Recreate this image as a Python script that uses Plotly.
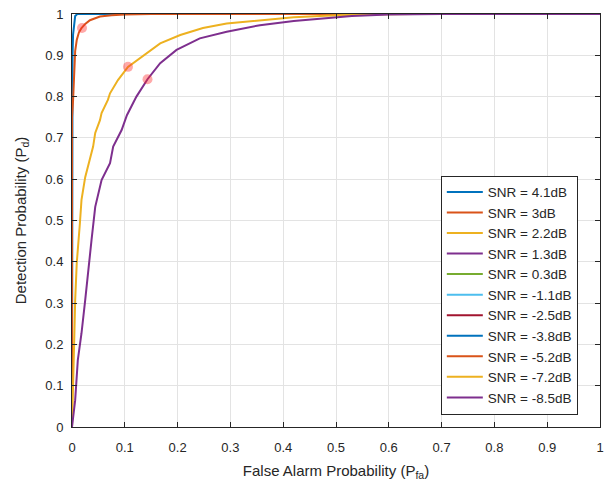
import plotly.graph_objects as go

snr_labels = ["4.1", "3", "2.2", "1.3", "0.3", "-1.1", "-2.5", "-3.8", "-5.2", "-7.2", "-8.5"]
colors = ["#0072BD", "#D95319", "#EDB120", "#7E2F8E", "#77AC30", "#4DBEEE", "#A2142F",
          "#0072BD", "#D95319", "#EDB120", "#7E2F8E"]

pfa_41 = [0, 0, 0.001, 0.002, 0.004, 0.006, 0.01, 1.0]
pd_41 = [0, 0.80, 0.90, 0.95, 0.98, 0.995, 1.0, 1.0]

pfa_3 = [0, 0, 0.002, 0.004, 0.006, 0.009, 0.013, 0.018, 0.025, 0.034, 0.053, 0.075, 0.1, 0.15, 1.0]
pd_3 = [0, 0.75, 0.79, 0.86, 0.91, 0.937, 0.955, 0.966, 0.976, 0.985, 0.994, 0.997, 0.999, 1.0, 1.0]

pfa_22 = [0, 0.001, 0.002, 0.004, 0.006, 0.009, 0.015, 0.018, 0.025, 0.034, 0.040, 0.044, 0.053,
          0.056, 0.068, 0.072, 0.087, 0.106, 0.141, 0.167, 0.205, 0.248, 0.293, 0.356, 0.42,
          0.48, 0.55, 0.65, 1.0]
pd_22 = [0, 0.04, 0.073, 0.2, 0.307, 0.397, 0.494, 0.55, 0.605, 0.646, 0.679, 0.712, 0.743,
         0.76, 0.792, 0.808, 0.84, 0.872, 0.905, 0.929, 0.949, 0.966, 0.977, 0.985, 0.992,
         0.996, 0.999, 1.0, 1.0]

pfa_13 = [0, 0.003, 0.006, 0.011, 0.018, 0.025, 0.031, 0.037, 0.044, 0.056, 0.072, 0.078, 0.094,
          0.104, 0.116, 0.122, 0.143, 0.167, 0.198, 0.242, 0.293, 0.356, 0.42, 0.48, 0.53,
          0.6, 0.7, 1.0]
pd_13 = [0, 0.03, 0.065, 0.162, 0.227, 0.307, 0.388, 0.453, 0.533, 0.598, 0.639, 0.679, 0.719,
         0.755, 0.785, 0.80, 0.842, 0.881, 0.913, 0.941, 0.957, 0.973, 0.983, 0.99, 0.995,
         0.999, 1.0, 1.0]

# series without drawn data (legend entries only)
curves_x = [pfa_41, pfa_3, pfa_22, pfa_13] + [[None]] * 7
curves_y = [pd_41, pd_3, pd_22, pd_13] + [[None]] * 7

marker_pfa = [0.019, 0.106, 0.143]
marker_pd = [0.966, 0.872, 0.842]

fig = go.Figure()
for lab, col, xs, ys in zip(snr_labels, colors, curves_x, curves_y):
    fig.add_trace(go.Scatter(x=xs, y=ys, mode="lines", name=f"SNR = {lab}dB",
                             line=dict(color=col, width=2), showlegend=True))

fig.add_trace(go.Scatter(x=marker_pfa, y=marker_pd, mode="markers", showlegend=False,
                         marker=dict(color="rgba(255,40,40,0.4)", size=10, line=dict(width=0))))

axis_common = dict(range=[0, 1], dtick=0.1, showgrid=True, gridcolor="#E3E3E3", gridwidth=1,
                   showline=True, linecolor="#262626", linewidth=1, mirror="ticks",
                   ticks="inside", ticklen=5, tickcolor="#262626", zeroline=False,
                   tickfont=dict(size=13, color="#262626"), tickformat="~g",
                   automargin=False, ticklabeloverflow="allow")

fig.update_xaxes(**axis_common, ticklabelstandoff=8,
                 title=dict(text="False Alarm Probability (P<sub>fa</sub>)",
                            font=dict(size=15, color="#262626"), standoff=11))
fig.update_yaxes(**axis_common, ticklabelstandoff=5,
                 title=dict(text="Detection Probability (P<sub>d</sub>)",
                            font=dict(size=15, color="#262626"), standoff=15))

# page body adds an 8px offset; figure sized so the plot area lands at x 72..600, y 14..427
fig.update_layout(
    width=606, height=475,
    margin=dict(l=64, r=14, t=6, b=56, autoexpand=False),
    paper_bgcolor="white", plot_bgcolor="white",
    font=dict(family="Liberation Sans, Arial, sans-serif", color="#262626"),
    legend=dict(x=0.958, y=0.03, xanchor="right", yanchor="bottom",
                bgcolor="white", bordercolor="#262626", borderwidth=1,
                font=dict(size=13.5, color="#262626"), tracegroupgap=0, itemwidth=36),
)

fig.write_html("out.html")
